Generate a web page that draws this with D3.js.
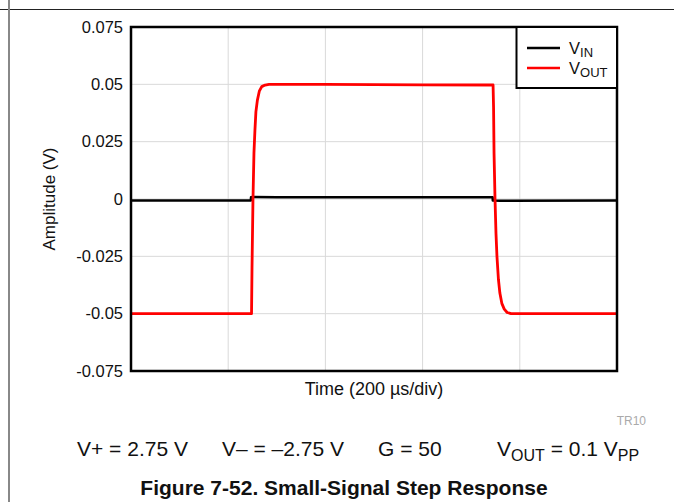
<!DOCTYPE html>
<html>
<head>
<meta charset="utf-8">
<script src="https://cdn.jsdelivr.net/npm/d3@7"></script>
<style>
  body { margin: 0; background: #fff; }
  svg text { font-family: "Liberation Sans", Arial, sans-serif; }
</style>
</head>
<body>
<svg id="main"></svg>
<script>
//--------data----------
// time in µs, amplitude in V (200 µs/div, 5 divisions)
const yTicks = [0.075, 0.05, 0.025, 0, -0.025, -0.05, -0.075];
const yTickLabels = ['0.075', '0.05', '0.025', '0', '-0.025', '-0.05', '-0.075'];
const xGrid = [0, 200, 400, 600, 800, 1000];

const vinT = [0, 246.5, 247, 250, 300, 400, 500, 600, 744, 744.5, 760, 1000];
const vinV = [-0.0007, -0.0007, 0.0008, 0.0009, 0.0008, 0.0008, 0.0008, 0.0008, 0.0008, -0.0007, -0.0008, -0.0007];

const voutT = [0, 248, 249, 251, 253, 255, 257, 260, 264, 269, 276, 284, 400, 600, 745,
  746, 747, 749, 751, 753, 756, 759, 763, 768, 774, 782, 900, 1000];
const voutV = [-0.05, -0.05, -0.03, 0.0, 0.02, 0.03, 0.038, 0.043, 0.047, 0.049, 0.0497, 0.05, 0.05, 0.0498, 0.0497,
  0.04, 0.02, 0.0, -0.015, -0.025, -0.035, -0.041, -0.0455, -0.048, -0.0495, -0.05, -0.05, -0.05];

const series = [
  {name: 'IN', t: vinT, v: vinV, color: '#000'},
  {name: 'OUT', t: voutT, v: voutV, color: '#ff0000'}
];

//--------code----------
let width = 674, height = 502;
let svg = d3.select('#main').attr('width', width).attr('height', height);

// page rules
svg.append('line').attr('x1', 0).attr('x2', width).attr('y1', 9.5).attr('y2', 9.5)
  .attr('stroke', '#222').attr('stroke-width', 1);
svg.append('line').attr('x1', 9).attr('x2', 9).attr('y1', 0).attr('y2', height)
  .attr('stroke', '#888').attr('stroke-width', 2);

let plot = {left: 131, right: 617, top: 27, bottom: 371};
let sx = d3.scaleLinear().domain([0, 1000]).range([plot.left, plot.right]);
let sy = d3.scaleLinear().domain([-0.075, 0.075]).range([plot.bottom, plot.top]);

// grid
svg.append('g').selectAll('line').data(xGrid).join('line')
  .attr('x1', d => sx(d)).attr('x2', d => sx(d))
  .attr('y1', plot.top).attr('y2', plot.bottom)
  .attr('stroke', '#d9d9d9').attr('stroke-width', 1);
svg.append('g').selectAll('line').data(yTicks).join('line')
  .attr('x1', plot.left).attr('x2', plot.right)
  .attr('y1', d => sy(d)).attr('y2', d => sy(d))
  .attr('stroke', '#d9d9d9').attr('stroke-width', 1);

// y axis labels
let ay = d3.axisLeft(sy).tickValues(yTicks).tickSize(0).tickPadding(8)
  .tickFormat((d, i) => yTickLabels[i]);
let gy = svg.append('g').attr('transform', `translate(${plot.left},0)`).call(ay);
gy.select('.domain').remove();
gy.selectAll('text').attr('font-size', 16.5).attr('fill', '#111')
  .style('font-family', '"Liberation Sans", Arial, sans-serif');

// data lines
let clip = svg.append('clipPath').attr('id', 'clip').append('rect')
  .attr('x', plot.left).attr('y', plot.top)
  .attr('width', plot.right - plot.left).attr('height', plot.bottom - plot.top);
let line = d3.line().x(d => sx(d[0])).y(d => sy(d[1]));
svg.append('g').attr('clip-path', 'url(#clip)').selectAll('path').data(series).join('path')
  .attr('d', s => line(s.t.map((t, i) => [t, s.v[i]])))
  .attr('fill', 'none')
  .attr('stroke', s => s.color)
  .attr('stroke-width', s => s.name === 'OUT' ? 2.8 : 2.5)
  .attr('stroke-linejoin', 'round');

// frame
svg.append('rect').attr('x', plot.left).attr('y', plot.top)
  .attr('width', plot.right - plot.left).attr('height', plot.bottom - plot.top)
  .attr('fill', 'none').attr('stroke', '#000').attr('stroke-width', 2.5);

// legend
let lg = svg.append('g');
lg.append('rect').attr('x', 516.5).attr('y', plot.top).attr('width', plot.right - 516.5).attr('height', 61)
  .attr('fill', '#fff').attr('stroke', '#000').attr('stroke-width', 2);
series.forEach((s, i) => {
  let y = 48 + i * 20;
  lg.append('line').attr('x1', 527).attr('x2', 560).attr('y1', y).attr('y2', y)
    .attr('stroke', s.color).attr('stroke-width', 2.4);
  let t = lg.append('text').attr('x', 569).attr('y', y + 6).attr('font-size', 16.5).attr('fill', '#111');
  t.append('tspan').text('V');
  t.append('tspan').attr('font-size', 13).attr('dy', 3).text(s.name);
});

// axis titles
svg.append('text').attr('transform', `translate(55,${(plot.top + plot.bottom) / 2}) rotate(-90)`)
  .attr('text-anchor', 'middle').attr('font-size', 17).attr('fill', '#111').text('Amplitude (V)');
svg.append('text').attr('x', (plot.left + plot.right) / 2).attr('y', 395)
  .attr('text-anchor', 'middle').attr('font-size', 18).attr('fill', '#111').text('Time (200 µs/div)');

svg.append('text').attr('x', 646).attr('y', 425).attr('text-anchor', 'end')
  .attr('font-size', 12).attr('fill', '#aaa').text('TR10');

// conditions
let cond = svg.append('g').attr('font-size', 21).attr('fill', '#111');
cond.append('text').attr('x', 77).attr('y', 456).text('V+ = 2.75 V');
cond.append('text').attr('x', 222).attr('y', 456).text('V– = –2.75 V');
cond.append('text').attr('x', 378).attr('y', 456).text('G = 50');
let vo = cond.append('text').attr('x', 497).attr('y', 456);
vo.append('tspan').text('V');
vo.append('tspan').attr('font-size', 16).attr('dy', 5).text('OUT');
vo.append('tspan').attr('dy', -5).text(' = 0.1 V');
vo.append('tspan').attr('font-size', 16).attr('dy', 5).text('PP');

svg.append('text').attr('x', 344).attr('y', 495).attr('text-anchor', 'middle')
  .attr('font-size', 21).attr('font-weight', 'bold').attr('fill', '#111')
  .text('Figure 7-52. Small-Signal Step Response');
</script>
</body>
</html>
